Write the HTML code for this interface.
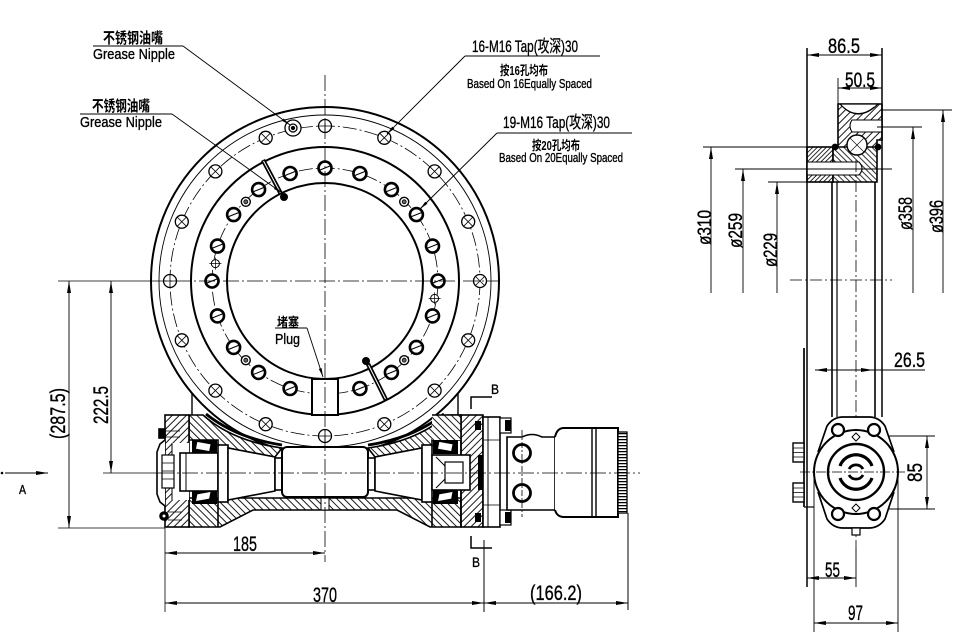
<!DOCTYPE html>
<html><head><meta charset="utf-8"><style>
html,body{margin:0;padding:0;background:#fff;}
svg{display:block;}
text{font-family:"Liberation Sans Narrow","Liberation Sans","Noto Sans CJK SC",sans-serif;fill:#000;}
.cj{font-family:"Liberation Sans","Noto Sans CJK SC",sans-serif;font-weight:bold;}
.d{stroke:#000;stroke-width:0.35;}
</style></head><body>
<svg width="980" height="641" viewBox="0 0 980 641" xmlns="http://www.w3.org/2000/svg">
<defs>
<pattern id="h1" width="5" height="5" patternUnits="userSpaceOnUse" patternTransform="rotate(45)"><rect width="5" height="5" fill="#fff"/><line x1="0.5" y1="0" x2="0.5" y2="5" stroke="#000" stroke-width="0.9"/></pattern>
<pattern id="h2" width="5" height="5" patternUnits="userSpaceOnUse" patternTransform="rotate(-45)"><rect width="5" height="5" fill="#fff"/><line x1="0.5" y1="0" x2="0.5" y2="5" stroke="#000" stroke-width="0.9"/></pattern>
<pattern id="h3" width="3.2" height="3.2" patternUnits="userSpaceOnUse" patternTransform="rotate(45)"><rect width="3.2" height="3.2" fill="#fff"/><line x1="0.5" y1="0" x2="0.5" y2="3.2" stroke="#000" stroke-width="0.8"/></pattern>
<pattern id="h4" width="4" height="4" patternUnits="userSpaceOnUse" patternTransform="rotate(-45)"><rect width="4" height="4" fill="#fff"/><line x1="0.5" y1="0" x2="0.5" y2="4" stroke="#000" stroke-width="0.8"/></pattern>
<marker id="ar" viewBox="0 0 12 4" refX="12" refY="2" markerWidth="12" markerHeight="4" markerUnits="userSpaceOnUse" orient="auto-start-reverse"><path d="M0,0L12,2L0,4z" fill="#000"/></marker>
<marker id="al" viewBox="0 0 9 3" refX="9" refY="1.5" markerWidth="9" markerHeight="3" markerUnits="userSpaceOnUse" orient="auto-start-reverse"><path d="M0,0L9,1.5L0,3z" fill="#000"/></marker>
</defs>
<rect width="980" height="641" fill="#fff"/>

<!-- ===== FRONT VIEW RING ===== -->
<g fill="none" stroke="#000">
<circle cx="325" cy="281" r="174" stroke-width="2"/>
<circle cx="325" cy="281" r="166" stroke-width="0.9"/>
<circle cx="325" cy="281" r="155" stroke-width="0.8" stroke-dasharray="14 3 2 3"/>
<circle cx="325" cy="281" r="134" stroke-width="2"/>
<circle cx="325" cy="281" r="113" stroke-width="0.8" stroke-dasharray="14 3 2 3"/>
<circle cx="325" cy="281" r="98" stroke-width="2"/>
<line x1="192" y1="393" x2="192" y2="415" stroke-width="1.4"/>
<line x1="458" y1="393" x2="458" y2="415" stroke-width="1.4"/>
</g>

<!-- outer 16 holes -->
<g fill="#fff" stroke="#000" stroke-width="1.3">
<g transform="translate(480,281)"><circle r="6.5"/><path d="M-4.6,-4.6L4.6,4.6M-4.6,4.6L4.6,-4.6" stroke-width="0.8"/></g>
<g transform="translate(468.2,221.7)"><circle r="6.5"/><path d="M-4.6,-4.6L4.6,4.6M-4.6,4.6L4.6,-4.6" stroke-width="0.8"/></g>
<g transform="translate(434.6,171.4)"><circle r="6.5"/><path d="M-4.6,-4.6L4.6,4.6M-4.6,4.6L4.6,-4.6" stroke-width="0.8"/></g>
<g transform="translate(384.3,137.8)"><circle r="6.5"/><path d="M-4.6,-4.6L4.6,4.6M-4.6,4.6L4.6,-4.6" stroke-width="0.8"/></g>
<g transform="translate(325,126)"><circle r="6.5"/><path d="M-6.5,0L6.5,0M0,-6.5L0,6.5" stroke-width="0.8"/></g>
<g transform="translate(265.7,137.8)"><circle r="6.5"/><path d="M-4.6,-4.6L4.6,4.6M-4.6,4.6L4.6,-4.6" stroke-width="0.8"/></g>
<g transform="translate(215.4,171.4)"><circle r="6.5"/><path d="M-4.6,-4.6L4.6,4.6M-4.6,4.6L4.6,-4.6" stroke-width="0.8"/></g>
<g transform="translate(181.8,221.7)"><circle r="6.5"/><path d="M-4.6,-4.6L4.6,4.6M-4.6,4.6L4.6,-4.6" stroke-width="0.8"/></g>
<g transform="translate(170,281)"><circle r="6.5"/><path d="M-6.5,0L6.5,0M0,-6.5L0,6.5" stroke-width="0.8"/></g>
<g transform="translate(181.8,340.3)"><circle r="6.5"/><path d="M-4.6,-4.6L4.6,4.6M-4.6,4.6L4.6,-4.6" stroke-width="0.8"/></g>
<g transform="translate(215.4,390.6)"><circle r="6.5"/><path d="M-4.6,-4.6L4.6,4.6M-4.6,4.6L4.6,-4.6" stroke-width="0.8"/></g>
<g transform="translate(265.7,424.2)"><circle r="6.5"/><path d="M-4.6,-4.6L4.6,4.6M-4.6,4.6L4.6,-4.6" stroke-width="0.8"/></g>
<g transform="translate(325,436)"><circle r="6.5"/><path d="M-6.5,0L6.5,0M0,-6.5L0,6.5" stroke-width="0.8"/></g>
<g transform="translate(384.3,424.2)"><circle r="6.5"/><path d="M-4.6,-4.6L4.6,4.6M-4.6,4.6L4.6,-4.6" stroke-width="0.8"/></g>
<g transform="translate(434.6,390.6)"><circle r="6.5"/><path d="M-4.6,-4.6L4.6,4.6M-4.6,4.6L4.6,-4.6" stroke-width="0.8"/></g>
<g transform="translate(468.2,340.3)"><circle r="6.5"/><path d="M-4.6,-4.6L4.6,4.6M-4.6,4.6L4.6,-4.6" stroke-width="0.8"/></g>
<!-- grease nipple -->
<g transform="translate(293,128)"><circle r="8"/><circle r="4"/><circle r="1.5" fill="#000"/></g>
</g>

<!-- inner 19 holes -->
<g fill="#fff" stroke="#000" stroke-width="2.6">
<g transform="translate(325,168)"><circle r="6.5"/><path d="M-5,2L5,-2" stroke-width="1"/></g>
<g transform="translate(290.1,173.5)"><circle r="6.5"/><path d="M-5,2L5,-2" stroke-width="1"/></g>
<g transform="translate(258.6,189.6)"><circle r="6.5"/><path d="M-5,2L5,-2" stroke-width="1"/></g>
<g transform="translate(233.6,214.6)"><circle r="6.5"/><path d="M-5,2L5,-2" stroke-width="1"/></g>
<g transform="translate(217.5,246.1)"><circle r="6.5"/><path d="M-5,2L5,-2" stroke-width="1"/></g>
<g transform="translate(212,281)"><circle r="6.5"/><path d="M-5,2L5,-2" stroke-width="1"/></g>
<g transform="translate(217.5,315.9)"><circle r="6.5"/><path d="M-5,2L5,-2" stroke-width="1"/></g>
<g transform="translate(233.6,347.4)"><circle r="6.5"/><path d="M-5,2L5,-2" stroke-width="1"/></g>
<g transform="translate(258.6,372.4)"><circle r="6.5"/><path d="M-5,2L5,-2" stroke-width="1"/></g>
<g transform="translate(290.1,388.5)"><circle r="6.5"/><path d="M-5,2L5,-2" stroke-width="1"/></g>
<g transform="translate(359.9,388.5)"><circle r="6.5"/><path d="M-5,2L5,-2" stroke-width="1"/></g>
<g transform="translate(391.4,372.4)"><circle r="6.5"/><path d="M-5,2L5,-2" stroke-width="1"/></g>
<g transform="translate(416.4,347.4)"><circle r="6.5"/><path d="M-5,2L5,-2" stroke-width="1"/></g>
<g transform="translate(432.5,315.9)"><circle r="6.5"/><path d="M-5,2L5,-2" stroke-width="1"/></g>
<g transform="translate(438,281)"><circle r="6.5"/><path d="M-5,2L5,-2" stroke-width="1"/></g>
<g transform="translate(432.5,246.1)"><circle r="6.5"/><path d="M-5,2L5,-2" stroke-width="1"/></g>
<g transform="translate(416.4,214.6)"><circle r="6.5"/><path d="M-5,2L5,-2" stroke-width="1"/></g>
<g transform="translate(391.4,189.6)"><circle r="6.5"/><path d="M-5,2L5,-2" stroke-width="1"/></g>
<g transform="translate(359.9,173.5)"><circle r="6.5"/><path d="M-5,2L5,-2" stroke-width="1"/></g>
</g>
<!-- small fittings -->
<g fill="#fff" stroke="#000" stroke-width="1.4">
<g transform="translate(404.2,201.8)"><circle r="4.5"/><circle r="2" fill="#666" stroke-width="0.8"/></g>
<g transform="translate(245.8,201.8)"><circle r="4.5"/><circle r="2" fill="#666" stroke-width="0.8"/></g>
<g transform="translate(245.8,360.2)"><circle r="4.5"/><circle r="2" fill="#666" stroke-width="0.8"/></g>
<g transform="translate(404.2,360.2)"><circle r="4.5"/><circle r="2" fill="#666" stroke-width="0.8"/></g>
<g transform="translate(215.4,263.6)" stroke-width="1"><circle r="4"/><path d="M-6,0L6,0M0,-6L0,6" stroke-width="0.7"/></g>
<g transform="translate(434.6,298.4)" stroke-width="1"><circle r="4"/><path d="M-6,0L6,0M0,-6L0,6" stroke-width="0.7"/></g>
</g>
<!-- pins -->
<g stroke="#000">
<line x1="263" y1="160" x2="281" y2="194" stroke-width="4.5"/>
<line x1="263.5" y1="161" x2="280.5" y2="193" stroke="#fff" stroke-width="1"/>
<circle cx="284" cy="197" r="3.5" fill="#000"/>
<line x1="368" y1="364" x2="386" y2="400" stroke-width="4.5"/>
<line x1="368.5" y1="365" x2="385.5" y2="399" stroke="#fff" stroke-width="1"/>
<circle cx="366" cy="361" r="3.5" fill="#000"/>
</g>
<!-- plug -->
<rect x="312" y="379" width="26" height="36" fill="#fff" stroke="#000" stroke-width="2"/>

<!-- ===== HOUSING FRONT ===== -->
<g stroke="#000" stroke-width="1.6">
<path d="M189,415 L203,415 Q232,441 282,448 L275,457 L228,448 L218,446 L218,440 L189,440 Z" fill="url(#h2)"/>
<path d="M461,415 L447,415 Q418,441 368,448 L375,457 L422,448 L432,446 L432,440 L461,440 Z" fill="url(#h2)"/>
<path d="M206,414 Q236,438 282,445" fill="none" stroke-width="2.8"/>
<path d="M444,414 Q414,438 368,445" fill="none" stroke-width="2.8"/>
<path d="M189,498 L461,498 L461,527 L430,527 L397,510 L253,510 L220,527 L189,527 Z" fill="url(#h2)"/>
<line x1="218" y1="498" x2="218" y2="527"/>
<line x1="432" y1="498" x2="432" y2="527"/>
<rect x="321" y="498" width="8" height="12" fill="#fff" stroke-width="1"/>
<rect x="165" y="415" width="24" height="112" fill="url(#h1)"/>
<rect x="172" y="443" width="17" height="57" fill="#fff" stroke="none"/>
<path d="M165,440 L160,444 L157,452 L157,494 L160,502 L165,506" fill="#fff"/>
<line x1="172" y1="443" x2="172" y2="500" stroke-width="1"/>
<rect x="162" y="455" width="12" height="33" fill="#fff" stroke-width="1.2"/>
<path d="M162,463H174M162,471H174M162,479H174" stroke-width="0.8"/>
<rect x="159" y="429" width="6" height="9" fill="#000"/>
<path d="M165,431H180M165,437H180" stroke-width="0.8"/>
<circle cx="164" cy="516" r="4" fill="#000"/>
<circle cx="164" cy="516" r="1.5" fill="#fff" stroke="none"/>
<path d="M168,512H182M168,520H182" stroke-width="0.8"/>
<rect x="192" y="440" width="25" height="13" fill="#000" stroke="none"/>
<path d="M197,441.5 L211,444 L209.5,451.5 L195.5,449 Z" fill="#fff" stroke-width="0.8"/>
<rect x="192" y="491" width="25" height="13" fill="#000" stroke="none"/>
<path d="M197,494 L211,491.5 L209.5,499 L195.5,501.5 Z" fill="#fff" stroke-width="0.8"/>
<rect x="180" y="453" width="38" height="38" fill="#fff"/>
<line x1="186" y1="453" x2="186" y2="491" stroke-width="1"/>
<rect x="218" y="445" width="10" height="57" fill="#fff"/>
<path d="M228,448 L275,457 L275,491 L228,500 Z" fill="#fff"/>
<rect x="275" y="458" width="7" height="32" fill="#fff"/>
<rect x="282" y="447" width="86" height="50" rx="5" fill="#fff" stroke-width="2"/>
<rect x="368" y="458" width="7" height="32" fill="#fff"/>
<path d="M375,457 L422,448 L422,500 L375,491 Z" fill="#fff"/>
<rect x="422" y="445" width="10" height="57" fill="#fff"/>
<rect x="461" y="415" width="22" height="112" fill="url(#h1)"/>
<rect x="432" y="415" width="29" height="25" fill="url(#h2)" stroke="none"/>
<line x1="432" y1="415" x2="461" y2="415"/>
<line x1="461" y1="415" x2="461" y2="527"/>
<rect x="433" y="440" width="25" height="14" fill="#000" stroke="none"/>
<path d="M439,441.5 L453,444 L451.5,451.5 L437.5,449 Z" fill="#fff" stroke-width="0.8"/>
<rect x="433" y="490" width="25" height="14" fill="#000" stroke="none"/>
<path d="M439,494 L453,491.5 L451.5,499 L437.5,501.5 Z" fill="#fff" stroke-width="0.8"/>
<rect x="432" y="455" width="38" height="35" fill="#fff"/>
<rect x="445" y="462" width="18" height="21" fill="#fff" stroke-width="1.2"/>
<path d="M436,457 L445,466 M436,488 L445,479" stroke-width="1"/>
<rect x="478" y="455" width="5" height="35" fill="#000" stroke="none"/>
<rect x="475" y="421" width="6" height="9" fill="#000" stroke="none"/>
<rect x="475" y="513" width="6" height="9" fill="#000" stroke="none"/>
<rect x="483" y="417" width="17" height="110" fill="#fff"/>
<line x1="488" y1="417" x2="488" y2="527" stroke-width="1"/>
<path d="M483,440H500M483,505H500" stroke-width="0.8"/>
<rect x="500" y="418" width="11" height="15" fill="#fff" stroke-width="1.2"/>
<rect x="505" y="420" width="6" height="11" fill="#000" stroke="none"/>
<rect x="500" y="510" width="11" height="15" fill="#fff" stroke-width="1.2"/>
<rect x="505" y="512" width="6" height="11" fill="#000" stroke="none"/>
<path d="M507,437 L522,437 Q532,432 542,437 L555,437 L555,510 L507,510 Z" fill="#fff" stroke-width="1.6"/>
<circle cx="522" cy="453" r="8.5" fill="#fff" stroke-width="2.8"/>
<circle cx="522" cy="493" r="8.5" fill="#fff" stroke-width="2.8"/>
<path d="M555,437 Q557,428 564,428 L618,428 L618,517 L564,517 Q557,517 555,510" fill="#fff" stroke-width="2"/>
<path d="M592,428V517M596,428V517" stroke-width="1.4"/>
<rect x="618" y="432" width="9" height="81" fill="#fff" stroke-width="1.3"/>
<line x1="622.5" y1="433" x2="622.5" y2="512" stroke-width="8" stroke-dasharray="1.2 1.8"/>
</g>

<!-- centerlines front -->
<g stroke="#000" stroke-width="0.8" fill="none">
<line x1="325" y1="75" x2="325" y2="562" stroke-dasharray="16 3 2 3"/>
<line x1="151" y1="281" x2="500" y2="281" stroke-dasharray="16 3 2 3"/>
<line x1="58" y1="281" x2="151" y2="281"/>
<line x1="158" y1="473" x2="640" y2="473" stroke-dasharray="16 3 2 3"/>
<line x1="103" y1="473" x2="158" y2="473"/>
<line x1="58" y1="528" x2="165" y2="528"/>
<line x1="522" y1="430" x2="522" y2="517" stroke-dasharray="6 2 2 2"/>
<line x1="165" y1="528" x2="165" y2="612"/>
<line x1="484" y1="540" x2="484" y2="612" stroke-width="1"/>
<line x1="628" y1="513" x2="628" y2="610" stroke-width="1"/>
</g>

<!-- section B marks -->
<g stroke="#000" stroke-width="1.5" fill="none">
<path d="M471,409 V397 H492"/>
<path d="M471,536 V548 H492"/>
</g>
<text class="d" x="491" y="394" font-size="14" textLength="8" lengthAdjust="spacingAndGlyphs">B</text>
<text class="d" x="472" y="567" font-size="14" textLength="8" lengthAdjust="spacingAndGlyphs">B</text>

<!-- front dims -->
<g stroke="#000" stroke-width="0.9" fill="none">
<line x1="165" y1="553" x2="325" y2="553" marker-start="url(#ar)" marker-end="url(#ar)"/>
<line x1="165" y1="603" x2="484" y2="603" marker-start="url(#ar)" marker-end="url(#ar)"/>
<line x1="484" y1="603" x2="628" y2="603" marker-start="url(#ar)" marker-end="url(#ar)"/>
<line x1="111" y1="281" x2="111" y2="473" marker-start="url(#ar)" marker-end="url(#ar)"/>
<line x1="69" y1="281" x2="69" y2="528" marker-start="url(#ar)" marker-end="url(#ar)"/>
<line x1="5" y1="473" x2="48" y2="473" marker-end="url(#ar)"/>
</g>
<circle cx="2" cy="473" r="1.3" fill="#000"/>
<text class="d" x="233" y="551" font-size="21" textLength="24" lengthAdjust="spacingAndGlyphs">185</text>
<text class="d" x="313" y="602" font-size="21" textLength="24" lengthAdjust="spacingAndGlyphs">370</text>
<text class="d" x="530" y="600" font-size="21" textLength="52" lengthAdjust="spacingAndGlyphs">(166.2)</text>
<text class="d" transform="translate(108,424) rotate(-90)" font-size="21" textLength="38" lengthAdjust="spacingAndGlyphs">222.5</text>
<text class="d" transform="translate(65,439) rotate(-90)" font-size="21" textLength="51" lengthAdjust="spacingAndGlyphs">(287.5)</text>
<text class="d" x="19" y="494" font-size="13" textLength="7" lengthAdjust="spacingAndGlyphs">A</text>

<!-- leaders / labels -->
<g stroke="#000" stroke-width="0.9" fill="none">
<line x1="93" y1="46" x2="183" y2="46"/>
<line x1="183" y1="46" x2="290" y2="125" marker-end="url(#al)"/>
<line x1="80" y1="114" x2="172" y2="114"/>
<line x1="172" y1="114" x2="282" y2="193" marker-end="url(#al)"/>
<line x1="465" y1="56" x2="600" y2="56"/>
<line x1="465" y1="56" x2="387" y2="134" marker-end="url(#al)"/>
<line x1="497" y1="133" x2="632" y2="133"/>
<line x1="497" y1="133" x2="420" y2="209" marker-end="url(#al)"/>
<line x1="275" y1="328" x2="307" y2="328"/>
<line x1="307" y1="328" x2="323" y2="377" marker-end="url(#al)"/>
</g>
<text class="cj" x="103" y="43" font-size="15" textLength="60" lengthAdjust="spacingAndGlyphs">不锈钢油嘴</text>
<text class="d" x="93" y="59" font-size="15" textLength="82" lengthAdjust="spacingAndGlyphs">Grease Nipple</text>
<text class="cj" x="92" y="111" font-size="15" textLength="58" lengthAdjust="spacingAndGlyphs">不锈钢油嘴</text>
<text class="d" x="80" y="127" font-size="15" textLength="82" lengthAdjust="spacingAndGlyphs">Grease Nipple</text>
<text class="d" x="472" y="52" font-size="17" textLength="106" lengthAdjust="spacingAndGlyphs">16-M16 Tap(攻深)30</text>
<text class="cj" x="500" y="75" font-size="13" textLength="48" lengthAdjust="spacingAndGlyphs">按16孔均布</text>
<text class="d" x="467" y="88" font-size="13" textLength="125" lengthAdjust="spacingAndGlyphs">Based On 16Equally Spaced</text>
<text class="d" x="503" y="128" font-size="17" textLength="107" lengthAdjust="spacingAndGlyphs">19-M16 Tap(攻深)30</text>
<text class="cj" x="532" y="150" font-size="13" textLength="48" lengthAdjust="spacingAndGlyphs">按20孔均布</text>
<text class="d" x="499" y="162" font-size="13" textLength="124" lengthAdjust="spacingAndGlyphs">Based On 20Equally Spaced</text>
<text class="cj" x="277" y="327" font-size="13" textLength="22" lengthAdjust="spacingAndGlyphs">堵塞</text>
<text class="d" x="275" y="344" font-size="15" textLength="25" lengthAdjust="spacingAndGlyphs">Plug</text>

<!-- ===== SIDE VIEW ===== -->
<g stroke="#000" stroke-width="1.6">
<path d="M838,104 L882,104 L882,140 L877,140 L877,147 L838,150 Z" fill="url(#h1)"/>
<path d="M840,104 Q858,124 878,104 Z" fill="#fff" stroke-width="1.2"/>
<path d="M843,107 Q858,120 874,107" fill="none" stroke-width="0.8"/>
<path d="M852,120 L882,120 L882,132 L852,132 Q848,126 852,120 Z" fill="#fff" stroke-width="1.1"/>
<rect x="807" y="147" width="26" height="35" fill="url(#h3)"/>
<path d="M833,147 L877,147 L877,182 L833,182 Z" fill="url(#h4)"/>
<path d="M807,162 L859,162 Q865,168.5 859,175 L807,175 Z" fill="#fff" stroke-width="1.1"/>
<circle cx="857" cy="145" r="10" fill="#fff" stroke-width="1.4"/>
<path d="M850,138L864,152M850,152L864,138" stroke-width="0.6"/>
<circle cx="835" cy="147" r="2.6" fill="#000"/>
<circle cx="878" cy="147" r="2.6" fill="#000"/>
</g>
<g stroke="#000" fill="none">
<line x1="807" y1="48" x2="807" y2="587" stroke-width="1.5"/>
<line x1="882" y1="48" x2="882" y2="417" stroke-width="1.5"/>
<line x1="838" y1="78" x2="838" y2="104" stroke-width="0.9"/>
<line x1="832" y1="182" x2="832" y2="417" stroke-width="1.6"/>
<line x1="837" y1="182" x2="837" y2="417" stroke-width="1.2"/>
<line x1="875" y1="182" x2="875" y2="417" stroke-width="1.6"/>
<line x1="856" y1="160" x2="856" y2="548" stroke-width="0.8" stroke-dasharray="12 3 2 3"/>
<line x1="790" y1="280" x2="892" y2="280" stroke-width="0.8" stroke-dasharray="12 3 2 3"/>
<line x1="703" y1="147" x2="807" y2="147" stroke-width="0.9"/>
<line x1="735" y1="169" x2="892" y2="169" stroke-width="0.9"/>
<line x1="768" y1="182" x2="807" y2="182" stroke-width="0.9"/>
<line x1="882" y1="110" x2="952" y2="110" stroke-width="0.9"/>
<line x1="877" y1="127" x2="922" y2="127" stroke-width="0.9"/>
<line x1="807" y1="55" x2="882" y2="55" stroke-width="0.9" marker-start="url(#ar)" marker-end="url(#ar)"/>
<line x1="838" y1="88" x2="882" y2="88" stroke-width="0.9" marker-start="url(#ar)" marker-end="url(#ar)"/>
<line x1="711" y1="147" x2="711" y2="293" stroke-width="0.9" marker-start="url(#ar)"/>
<line x1="743" y1="169" x2="743" y2="293" stroke-width="0.9" marker-start="url(#ar)"/>
<line x1="777" y1="182" x2="777" y2="293" stroke-width="0.9" marker-start="url(#ar)"/>
<line x1="913" y1="127" x2="913" y2="293" stroke-width="0.9" marker-start="url(#ar)"/>
<line x1="943" y1="110" x2="943" y2="293" stroke-width="0.9" marker-start="url(#ar)"/>
<line x1="815" y1="370" x2="873" y2="370" stroke-width="0.9" marker-start="url(#ar)" marker-end="url(#ar)"/>
<line x1="873" y1="370" x2="925" y2="370" stroke-width="0.9"/>
<line x1="927" y1="436" x2="927" y2="509" stroke-width="0.9" marker-start="url(#ar)" marker-end="url(#ar)"/>
<line x1="880" y1="436" x2="935" y2="436" stroke-width="0.9"/>
<line x1="880" y1="509" x2="935" y2="509" stroke-width="0.9"/>
<line x1="807" y1="578" x2="856" y2="578" stroke-width="0.9" marker-start="url(#ar)" marker-end="url(#ar)"/>
<line x1="814" y1="623" x2="898" y2="623" stroke-width="0.9" marker-start="url(#ar)" marker-end="url(#ar)"/>
<line x1="814" y1="473" x2="814" y2="632" stroke-width="0.9"/>
<line x1="898" y1="473" x2="898" y2="632" stroke-width="0.9"/>
<line x1="856" y1="548" x2="856" y2="587" stroke-width="0.9"/>
</g>
<g stroke="#000" fill="none">
<path d="M818,452 L827,426 Q833,417 843,417 L869,417 Q879,417 885,426 L894,452" stroke-width="1.7" fill="#fff"/>
<path d="M818,492 L827,519 Q833,528 843,528 L869,528 Q879,528 885,519 L894,492" stroke-width="1.7" fill="#fff"/>
<circle cx="856" cy="472" r="42" stroke-width="2" fill="#fff"/>
<circle cx="856" cy="472" r="28" stroke-width="2.4"/>
<circle cx="838" cy="430" r="6" stroke-width="2.2" fill="#fff"/>
<circle cx="874" cy="430" r="6" stroke-width="2.2" fill="#fff"/>
<circle cx="838" cy="514" r="6" stroke-width="2.2" fill="#fff"/>
<circle cx="874" cy="514" r="6" stroke-width="2.2" fill="#fff"/>
<path d="M840,466 A17,17 0 0 1 872,466" stroke-width="3.2"/>
<path d="M840,478 A17,17 0 0 0 872,478" stroke-width="3.2"/>
<path d="M849,469 A8,8 0 0 1 863,469" stroke-width="2.8"/>
<path d="M849,475 A8,8 0 0 0 863,475" stroke-width="2.8"/>
<line x1="800" y1="472" x2="905" y2="472" stroke-width="0.8" stroke-dasharray="10 2 2 2"/>
<path d="M856,433 L860,437 L856,441 L852,437 Z" stroke-width="1"/>
<path d="M856,504 L860,508 L856,512 L852,508 Z" stroke-width="1"/>
<rect x="852" y="528" width="8" height="7" stroke-width="1.2" fill="#fff"/>
<line x1="804" y1="348" x2="804" y2="507" stroke-width="1.7"/>
<line x1="804" y1="507" x2="814" y2="507" stroke-width="1.2"/>
<rect x="793" y="443" width="11" height="19" stroke-width="1.4" fill="#fff"/>
<rect x="793" y="483" width="11" height="19" stroke-width="1.4" fill="#fff"/>
<path d="M793,448H804M793,452.5H804M793,457H804M793,488H804M793,492.5H804M793,497H804" stroke-width="0.7"/>
</g>
<text class="d" x="828" y="53" font-size="21" textLength="32" lengthAdjust="spacingAndGlyphs">86.5</text>
<text class="d" x="845" y="87" font-size="21" textLength="30" lengthAdjust="spacingAndGlyphs">50.5</text>
<text class="d" x="894" y="367" font-size="21" textLength="31" lengthAdjust="spacingAndGlyphs">26.5</text>
<text class="d" x="825" y="577" font-size="21" textLength="15" lengthAdjust="spacingAndGlyphs">55</text>
<text class="d" x="848" y="620" font-size="21" textLength="15" lengthAdjust="spacingAndGlyphs">97</text>
<text class="d" transform="translate(922,482) rotate(-90)" font-size="21" textLength="19" lengthAdjust="spacingAndGlyphs">85</text>
<text class="d" transform="translate(711,245) rotate(-90)" font-size="19" textLength="35" lengthAdjust="spacingAndGlyphs">ø310</text>
<text class="d" transform="translate(742,248) rotate(-90)" font-size="19" textLength="35" lengthAdjust="spacingAndGlyphs">ø259</text>
<text class="d" transform="translate(777,267) rotate(-90)" font-size="19" textLength="34" lengthAdjust="spacingAndGlyphs">ø229</text>
<text class="d" transform="translate(912,230) rotate(-90)" font-size="19" textLength="33" lengthAdjust="spacingAndGlyphs">ø358</text>
<text class="d" transform="translate(943,233) rotate(-90)" font-size="19" textLength="33" lengthAdjust="spacingAndGlyphs">ø396</text>
</svg>
</body></html>
